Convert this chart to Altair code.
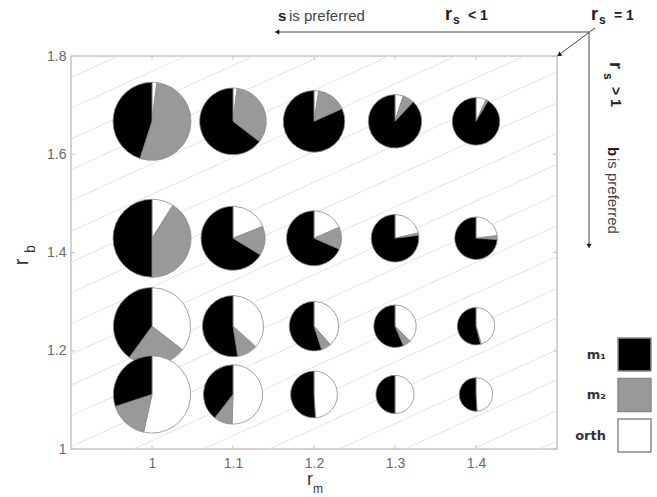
import math
import altair as alt
import pandas as pd

FONT = "Liberation Sans"

# ---------------- data ----------------
rm_values = [1.0, 1.1, 1.2, 1.3, 1.4]          # x positions (r_m)
rb_values = [1.667, 1.429, 1.25, 1.111]        # y positions (r_b), rows top -> bottom
categories = ["m\u2081", "m\u2082", "orth"]

m1_frac = [
    [0.45, 0.646, 0.817, 0.88, 0.915],
    [0.50, 0.663, 0.685, 0.77, 0.74],
    [0.40, 0.525, 0.55, 0.565, 0.54],
    [0.30, 0.395, 0.51, 0.50, 0.51],
]
m2_frac = [
    [0.53, 0.334, 0.158, 0.07, 0.015],
    [0.41, 0.147, 0.13, 0.015, 0.03],
    [0.245, 0.108, 0.065, 0.06, 0.005],
    [0.165, 0.10, 0.0, 0.0, 0.0],
]
orth_frac = [
    [0.02, 0.02, 0.025, 0.05, 0.07],
    [0.09, 0.19, 0.185, 0.215, 0.23],
    [0.355, 0.367, 0.385, 0.375, 0.455],
    [0.535, 0.505, 0.49, 0.50, 0.49],
]
pie_size = [
    [1.0, 0.855, 0.79, 0.685, 0.61],
    [1.0, 0.82, 0.705, 0.61, 0.545],
    [0.99, 0.785, 0.635, 0.545, 0.48],
    [0.99, 0.76, 0.60, 0.49, 0.43],
]

# background guide lines: r_m where each line meets r_b = 1, and their slope
guide_x0 = [1.479, 1.396, 1.312, 1.231, 1.145, 1.064, 0.977, 0.894, 0.81,
            0.727, 0.643, 0.56, 0.476, 0.393, 0.309, 0.226, 0.142, 0.059,
            -0.025, -0.108]
guide_slope = 0.75

x_ticks = [1.0, 1.1, 1.2, 1.3, 1.4]
y_ticks = [1.0, 1.2, 1.4, 1.6, 1.8]

# ---------------- tables ----------------
rows = []
pid = 0
for i, rb in enumerate(rb_values):
    for j, rm in enumerate(rm_values):
        vals = [orth_frac[i][j], m2_frac[i][j], m1_frac[i][j]]
        names = [categories[2], categories[1], categories[0]]
        for k in range(3):
            rows.append({"pie": pid, "rm": rm, "rb": rb, "cat": names[k],
                         "order": k, "frac": vals[k], "size": pie_size[i][j]})
        pid += 1
df = pd.DataFrame(rows)
guides = pd.DataFrame({"c": guide_x0})
xt = pd.DataFrame({"v": x_ticks})
yt = pd.DataFrame({"v": y_ticks})

W, H = 486, 393
AX = "#c4c4c4"
xscale = alt.Scale(domain=[0.9, 1.5], nice=False, zero=False)
yscale = alt.Scale(domain=[1.0, 1.8], nice=False, zero=False)
xaxis = alt.Axis(values=x_ticks, format="~g", ticks=False, domain=False, grid=False,
                 labelFont=FONT, labelFontSize=14, labelColor="#6a6a6a",
                 labelPadding=7, title=None)
yaxis = alt.Axis(values=y_ticks, format="~g", ticks=False, domain=False, grid=False,
                 labelFont=FONT, labelFontSize=14, labelColor="#6a6a6a",
                 labelPadding=5, title=None)

lines = alt.Chart(guides).transform_calculate(
    x1=f"datum.c + 0.8 / {guide_slope}", y0="1", y1="1.8"
).mark_rule(color="#e4e4e4", strokeWidth=1, clip=True).encode(
    x=alt.X("c:Q", scale=xscale, axis=xaxis),
    x2="x1:Q",
    y=alt.Y("y0:Q", scale=yscale, axis=yaxis),
    y2="y1:Q",
)

pies = alt.Chart(df).transform_filter("datum.frac > 0").transform_stack(
    stack="frac", groupby=["pie"], as_=["t0", "t1"], offset="normalize",
    sort=[alt.SortField("order", order="ascending")]
).mark_arc(stroke="#8a8a8a", strokeWidth=0.8).encode(
    x=alt.X("rm:Q", scale=xscale, axis=xaxis),
    y=alt.Y("rb:Q", scale=yscale, axis=yaxis),
    theta=alt.Theta("t0:Q", scale=alt.Scale(domain=[0, 1], range=[0, 2 * math.pi])),
    theta2="t1:Q",
    radius=alt.Radius("size:Q", scale=alt.Scale(type="linear", domain=[0, 1], range=[0, 39])),
    fill=alt.Fill("cat:N",
                  scale=alt.Scale(domain=categories, range=["#000000", "#999999", "#ffffff"]),
                  legend=alt.Legend(orient="none", legendX=546, legendY=281, title=None,
                                    symbolType="square", symbolSize=1089,
                                    symbolStrokeColor="#8a8a8a", symbolStrokeWidth=1.5,
                                    labelAlign="right", labelOffset={"expr": "-46"},
                                    labelFont="DejaVu Sans", labelFontSize=13,
                                    labelFontWeight="bold",
                                    labelColor="#333333", rowPadding=1.5)),
)

tick_len = 4
tb = alt.Chart(xt).mark_rule(color=AX).encode(
    x=alt.X("v:Q", scale=xscale, axis=xaxis), y=alt.value(H), y2=alt.value(H - tick_len))
tt = alt.Chart(xt).mark_rule(color=AX).encode(
    x=alt.X("v:Q", scale=xscale, axis=xaxis), y=alt.value(0), y2=alt.value(tick_len))
tl = alt.Chart(yt).mark_rule(color=AX).encode(
    y=alt.Y("v:Q", scale=yscale, axis=yaxis), x=alt.value(0), x2=alt.value(tick_len))
tr = alt.Chart(yt).mark_rule(color=AX).encode(
    y=alt.Y("v:Q", scale=yscale, axis=yaxis), x=alt.value(W), x2=alt.value(W - tick_len))


def txt(t, x, y, size=14, weight="normal", angle=0, align="left", color="#222222"):
    return alt.Chart(pd.DataFrame({"t": [t]})).mark_text(
        align=align, baseline="middle", fontSize=size, fontWeight=weight,
        angle=angle, font=FONT, color=color
    ).encode(x=alt.value(x), y=alt.value(y), text="t:N")


def seg(x1, y1, x2, y2):
    return alt.Chart(pd.DataFrame({"a": [0]})).mark_rule(color="#444444", strokeWidth=1).encode(
        x=alt.value(x1), y=alt.value(y1), x2=alt.value(x2), y2=alt.value(y2))


def head(x, y, angle):
    return alt.Chart(pd.DataFrame({"a": [0]})).mark_point(
        shape="triangle-up", filled=True, size=28, color="#222222", angle=angle, opacity=1
    ).encode(x=alt.value(x), y=alt.value(y))


annot = [
    # axis titles
    txt("r", 239, 424, size=18, align="center", color="#333333"),
    txt("m", 247, 433, size=12, align="center", color="#333333"),
    txt("r", -49, 206, size=20, angle=270, align="center", color="#333333"),
    txt("b", -40, 193, size=14, angle=270, align="center", color="#333333"),
    # top annotations
    txt("s", 207, -40, size=15, weight="bold"),
    txt("is preferred", 218, -40, size=15, color="#444444"),
    txt("r", 374, -41, size=18, weight="bold"),
    txt("s", 382, -36, size=12, weight="bold"),
    txt("< 1", 397, -40, size=14, weight="bold"),
    txt("r", 520, -41, size=18, weight="bold"),
    txt("s", 528, -36, size=12, weight="bold"),
    txt("= 1", 543, -40, size=14, weight="bold"),
    seg(518, -24, 206, -24), head(206, -24, 270),
    seg(518, -24, 518, 190), head(518, 190, 180),
    seg(524, -28, 489, -2), head(488, -1, 234),
    # right annotations
    txt("r", 544, 6, size=18, weight="bold", angle=90),
    txt("s", 537, 17, size=12, weight="bold", angle=90),
    txt("> 1", 544, 31, size=14, weight="bold", angle=90),
    txt("b", 542, 91, size=15, weight="bold", angle=90),
    txt("is preferred", 542, 102, size=15, angle=90, color="#444444"),
]

chart = alt.layer(lines, pies, tb, tt, tl, tr, *annot).properties(
    width=W, height=H,
    autosize=alt.AutoSizeParams(type="none"),
    padding={"left": 71, "top": 56, "right": 100, "bottom": 48},
    background="white",
).configure_view(stroke=AX, strokeWidth=1.5)

chart.save("out.html", embed_options={"renderer": "svg", "actions": False})
